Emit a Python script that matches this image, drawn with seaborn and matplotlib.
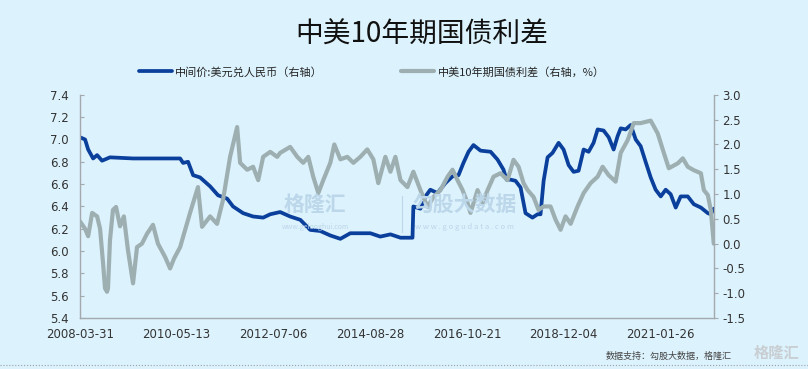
import pandas as pd
import numpy as np
import seaborn as sns
import matplotlib.pyplot as plt
from matplotlib.lines import Line2D

# 中间价:美元兑人民币 (左轴数值)
usd_dates = ['2008-03-31', '2008-05-11', '2008-06-05', '2008-07-15', '2008-08-16', '2008-09-25',
             '2008-11-28', '2009-06-02', '2010-06-17', '2010-07-11', '2010-08-20', '2010-09-30',
             '2010-11-25', '2011-02-14', '2011-04-19', '2011-07-01', '2011-08-18', '2011-11-07',
             '2012-01-27', '2012-04-17', '2012-06-13', '2012-09-01', '2012-11-21', '2013-02-11',
             '2013-05-02', '2013-07-22', '2013-10-11', '2013-12-31', '2014-03-21', '2014-06-10',
             '2014-08-30', '2014-11-18', '2015-02-08', '2015-04-30', '2015-08-05', '2015-08-12',
             '2015-10-08', '2015-11-17', '2015-12-27', '2016-02-22', '2016-04-27', '2016-06-23',
             '2016-08-10', '2016-09-19', '2016-10-30', '2016-12-09', '2017-02-04', '2017-04-26',
             '2017-06-21', '2017-08-08', '2017-09-02', '2017-10-04', '2017-11-13', '2017-12-24',
             '2018-02-02', '2018-03-30', '2018-05-10', '2018-06-03', '2018-06-28', '2018-07-30',
             '2018-09-08', '2018-10-27', '2018-12-06', '2019-01-16', '2019-02-25', '2019-04-06',
             '2019-05-17', '2019-06-26', '2019-08-05', '2019-09-07', '2019-10-25', '2019-12-05',
             '2020-01-14', '2020-02-15', '2020-03-11', '2020-04-20', '2020-05-31', '2020-07-10',
             '2020-08-19', '2020-09-28', '2020-11-08', '2020-12-18', '2021-01-28', '2021-03-09',
             '2021-04-18', '2021-05-29', '2021-07-08', '2021-09-03', '2021-10-22', '2021-12-18',
             '2022-02-12', '2022-03-08', '2022-04-01']
usd_cny = [7.02, 7.00, 6.91, 6.83, 6.86, 6.81,
           6.84, 6.83, 6.83, 6.79, 6.80, 6.68,
           6.66, 6.58, 6.50, 6.47, 6.40, 6.34,
           6.31, 6.30, 6.33, 6.35, 6.31, 6.28,
           6.19, 6.18, 6.14, 6.11, 6.16, 6.16,
           6.16, 6.13, 6.15, 6.12, 6.12, 6.40,
           6.38, 6.49, 6.55, 6.52, 6.61, 6.67,
           6.68, 6.79, 6.89, 6.95, 6.90, 6.89,
           6.82, 6.73, 6.64, 6.64, 6.63, 6.57,
           6.34, 6.30, 6.33, 6.33, 6.63, 6.84,
           6.88, 6.97, 6.91, 6.77, 6.71, 6.72,
           6.91, 6.89, 6.97, 7.09, 7.08, 7.02,
           6.91, 7.03, 7.10, 7.09, 7.13, 7.00,
           6.94, 6.80, 6.66, 6.55, 6.49, 6.55,
           6.51, 6.39, 6.49, 6.49, 6.42, 6.39,
           6.34, 6.33, 6.38]

# 中美10年期国债利差 (右轴, %)
spread_dates = ['2008-03-31', '2008-05-11', '2008-06-05', '2008-07-07', '2008-08-16', '2008-09-09',
                '2008-10-03', '2008-10-19', '2008-11-04', '2008-11-12', '2008-11-28', '2008-12-22',
                '2009-01-16', '2009-02-17', '2009-03-20', '2009-04-22', '2009-06-02', '2009-07-04',
                '2009-08-13', '2009-09-23', '2009-11-10', '2009-12-20', '2010-02-16', '2010-03-28',
                '2010-04-29', '2010-06-17', '2010-09-05', '2010-11-08', '2010-12-11', '2011-02-14',
                '2011-04-11', '2011-05-29', '2011-07-25', '2011-09-20', '2011-10-14', '2011-12-10',
                '2012-01-27', '2012-03-08', '2012-04-17', '2012-06-13', '2012-08-08', '2012-09-01',
                '2012-11-21', '2013-01-17', '2013-03-06', '2013-04-16', '2013-05-26', '2013-07-06',
                '2013-08-15', '2013-10-11', '2013-11-12', '2013-12-31', '2014-02-25', '2014-04-15',
                '2014-06-10', '2014-08-05', '2014-09-23', '2014-11-02', '2014-12-29', '2015-02-08',
                '2015-03-20', '2015-04-30', '2015-06-25', '2015-08-12', '2015-10-08', '2015-12-04',
                '2016-01-21', '2016-03-18', '2016-05-14', '2016-06-23', '2016-08-02', '2016-09-12',
                '2016-10-22', '2016-11-15', '2017-01-11', '2017-02-21', '2017-04-02', '2017-05-20',
                '2017-07-15', '2017-09-10', '2017-10-28', '2017-12-08', '2018-01-17', '2018-02-19',
                '2018-04-08', '2018-05-18', '2018-06-28', '2018-08-23', '2018-10-03', '2018-11-12',
                '2018-12-22', '2019-02-01', '2019-03-29', '2019-05-17', '2019-07-12', '2019-09-07',
                '2019-10-17', '2019-12-05', '2020-01-30', '2020-03-11', '2020-05-07', '2020-06-24',
                '2020-08-19', '2020-11-08', '2021-01-04', '2021-02-22', '2021-04-03', '2021-06-15',
                '2021-07-25', '2021-09-03', '2021-10-22', '2021-12-18', '2022-01-11', '2022-02-12',
                '2022-03-08', '2022-04-01']
spread = [0.45, 0.30, 0.15, 0.62, 0.55, 0.30,
          -0.39, -0.90, -0.97, -0.90, 0.07, 0.68,
          0.74, 0.35, 0.55, -0.13, -0.80, -0.07,
          0.00, 0.20, 0.38, 0.00, -0.27, -0.50,
          -0.30, -0.07, 0.62, 1.14, 0.34, 0.55,
          0.40, 0.88, 1.75, 2.35, 1.63, 1.49,
          1.55, 1.28, 1.75, 1.85, 1.75, 1.83,
          1.95, 1.75, 1.63, 1.75, 1.35, 1.02,
          1.28, 1.63, 2.00, 1.70, 1.75, 1.63,
          1.75, 1.90, 1.70, 1.22, 1.75, 1.45,
          1.75, 1.28, 1.14, 1.45, 1.08, 0.74,
          0.94, 1.08, 1.35, 1.49, 1.28, 1.08,
          0.82, 0.62, 1.08, 0.82, 1.08, 1.35,
          1.42, 1.28, 1.69, 1.55, 1.22, 1.08,
          0.94, 0.68, 0.75, 0.75, 0.48, 0.28,
          0.55, 0.40, 0.75, 1.02, 1.22, 1.35,
          1.55, 1.38, 1.25, 1.83, 2.09, 2.43,
          2.43, 2.48, 2.22, 1.83, 1.52, 1.62,
          1.72, 1.55, 1.48, 1.42, 1.08, 0.98,
          0.68, 0.00]

tick_dates = ['2008-03-31', '2010-05-13', '2012-07-06', '2014-08-28',
              '2016-10-21', '2018-12-04', '2021-01-26']
left_ticks = [5.4, 5.6, 5.8, 6.0, 6.2, 6.4, 6.6, 6.8, 7.0, 7.2, 7.4]
right_ticks = [-1.5, -1.0, -0.5, 0.0, 0.5, 1.0, 1.5, 2.0, 2.5, 3.0]

usd_df = pd.DataFrame({'date': pd.to_datetime(usd_dates), 'value': usd_cny})
spr_df = pd.DataFrame({'date': pd.to_datetime(spread_dates), 'value': spread})

bg = '#dcf2fc'
blue = '#0a3f9c'
gray = '#9eafb2'
axis_c = '#a3a9ad'

sns.set_style('white')
plt.rcParams['font.family'] = ['Noto Sans CJK SC', 'DejaVu Sans']

fig = plt.figure(figsize=(8.08, 3.69), dpi=100, facecolor=bg)
ax = fig.add_axes([0.099, 0.138, 0.785, 0.605])
ax.set_facecolor(bg)

sns.lineplot(data=usd_df, x='date', y='value', ax=ax, color=blue, lw=2.7, legend=False)
ax2 = ax.twinx()
sns.lineplot(data=spr_df, x='date', y='value', ax=ax2, color=gray, lw=3.0, legend=False)

ax.set_xlim(pd.Timestamp('2008-03-31'), pd.Timestamp('2022-04-05'))
ax.set_ylim(5.4, 7.4)
ax2.set_ylim(-1.5, 3.0)
ax.set_yticks(left_ticks)
ax.set_yticklabels([f'{v:.1f}' for v in left_ticks], family='DejaVu Sans')
ax2.set_yticks(right_ticks)
ax2.set_yticklabels([f'{v:.1f}' for v in right_ticks], family='DejaVu Sans')
ax.set_xticks(pd.to_datetime(tick_dates))
ax.set_xticklabels(tick_dates, family='DejaVu Sans')
ax.set_xlabel('')
ax.set_ylabel('')
ax2.set_ylabel('')

for a in (ax, ax2):
    for s in a.spines.values():
        s.set_color(axis_c)
        s.set_linewidth(1.0)
    a.spines['top'].set_visible(False)
ax.spines['right'].set_visible(False)
ax2.spines['left'].set_visible(False)
ax2.spines['bottom'].set_visible(False)

ax.tick_params(axis='y', direction='in', length=3, color=axis_c, labelsize=8.5,
               labelcolor='#333333', pad=8)
ax.tick_params(axis='x', direction='in', length=3, color=axis_c, labelsize=8.5,
               labelcolor='#333333', pad=7)
ax2.tick_params(axis='y', direction='out', length=3, color=axis_c, labelsize=8.5,
                labelcolor='#333333', pad=3)

fig.text(0.522, 0.905, '中美10年期国债利差', ha='center', va='center',
         fontsize=20, color='#111111')

handles = [Line2D([], [], color=blue, lw=2.7), Line2D([], [], color=gray, lw=3.0)]
fig.legend(handles, ['中间价:美元兑人民币（右轴）', '中美10年期国债利差（右轴，%）'],
           loc='center', bbox_to_anchor=(0.46, 0.805), ncol=2, frameon=False,
           fontsize=8, handlelength=3.0, columnspacing=7.0, handletextpad=0.3)

# 水印
wm = '#bcd6ea'
fig.text(0.39, 0.445, '格隆汇', fontsize=15, color=wm, ha='center', va='center', fontweight='bold')
fig.text(0.39, 0.385, 'www.gelonghui.com', fontsize=5, color=wm, ha='center', va='center')
fig.text(0.575, 0.445, '勾股大数据', fontsize=15, color=wm, ha='center', va='center', fontweight='bold')
fig.text(0.575, 0.385, 'w w w . g o g u d a t a . c o m', fontsize=5.5, color=wm,
         ha='center', va='center')
fig.add_artist(Line2D([0.497, 0.497], [0.37, 0.47], color=wm, lw=0.8))

fig.text(0.905, 0.035, '数据支持：勾股大数据，格隆汇', fontsize=6.5, color='#444444',
         ha='right', va='center')
fig.text(0.99, 0.045, '格隆汇', fontsize=11, color='#c8ced2', ha='right', va='center',
         fontweight='bold')
fig.add_artist(Line2D([0, 1], [0.01, 0.01], color='#9aa0a4', lw=0.8, ls=':'))

plt.savefig('out.png', dpi=100, facecolor=bg)
